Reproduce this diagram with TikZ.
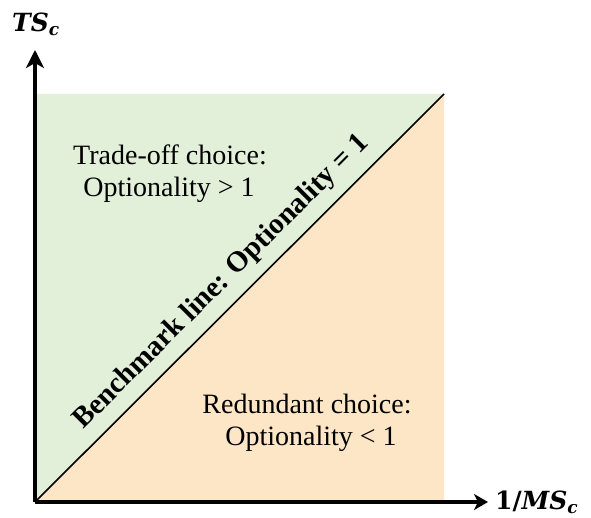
\documentclass[tikz,border=0pt]{standalone}
\usepackage{fontspec}
\setmainfont{Liberation Serif}
\newfontfamily\axisfont{DejaVu Serif}
\usetikzlibrary{arrows.meta}
\definecolor{tradegreen}{HTML}{E2EFD9}
\definecolor{redorange}{HTML}{FCE6C5}
\tikzset{
  axisline/.style={line width=3.2pt},
  regiontext/.style={font=\fontsize{28}{32}\selectfont, inner sep=0pt, anchor=base},
  benchtext/.style={font=\fontsize{29}{33}\selectfont\bfseries, inner sep=0pt, anchor=base, rotate=45},
  axislabel/.style={font=\fontsize{25}{30}\selectfont\axisfont\bfseries\itshape, inner sep=0pt, anchor=base west},
}
\newcommand{\subc}{\raisebox{-4pt}{\fontsize{17}{20}\selectfont c}}
\begin{document}
\begin{tikzpicture}[x=1pt,y=1pt]
\useasboundingbox (0,0) rectangle (591,517);
% named corners
\coordinate (O) at (35,15);
\coordinate (TL) at (35,423);
\coordinate (TR) at (444,423);
\coordinate (BR) at (444,15);
\coordinate (ytip) at (35,467);
\coordinate (xtip) at (488,15);
% regions
\fill[tradegreen] (O) -- (TL) -- (TR) -- cycle;
\fill[redorange] (O) -- (BR) -- (TR) -- cycle;
% benchmark line
\draw[line width=1.6pt] (O) -- (TR);
% axes
\draw[axisline, -{Stealth[length=18pt,width=18pt,inset=5pt]}] (O) -- (ytip);
\draw[axisline, -{Stealth[length=14pt,width=16pt,inset=4pt]}] (O) -- (xtip);
% axis labels
\node[axislabel] (ylab) at (12,485) {TS\subc};
\node[axislabel] (xlab) at (495,8) {{\upshape 1/}MS\subc};
% region texts
\node[regiontext] (trade1) at (170,352) {Trade-off choice:};
\node[regiontext] (trade2) at (169,320) {Optionality > 1};
\node[regiontext] (red1) at (307,104) {Redundant choice:};
\node[regiontext] (red2) at (311,72) {Optionality < 1};
% benchmark label
\node[benchtext] (bench) at (226.5,230) {Benchmark line: Optionality = 1};
\end{tikzpicture}
\end{document}
